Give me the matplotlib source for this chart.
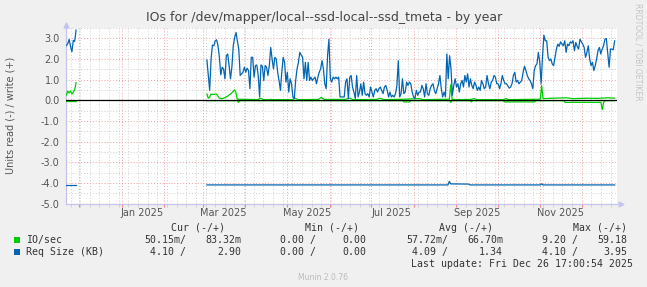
import numpy as np
import pandas as pd
import matplotlib
matplotlib.use('Agg')
import matplotlib.pyplot as plt
import matplotlib.dates as mdates
from matplotlib.patches import Rectangle
from matplotlib.ticker import MultipleLocator, FuncFormatter

W, H = 647, 287

# --- data -----------------------------------------------------------------
# first block of samples (late Nov 2024)
seg1_dates = ['2024-11-22', '2024-11-23', '2024-11-24', '2024-11-25',
              '2024-11-26', '2024-11-27', '2024-11-28', '2024-11-29']
size_write_1 = [2.65, 2.75, 2.95, 2.60, 2.35, 2.90, 2.85, 3.40]
size_read_1 = [4.10, 4.10, 4.10, 4.10, 4.10, 4.10, 4.10, 4.10]
io_write_1 = [0.25, 0.45, 0.35, 0.45, 0.30, 0.40, 0.50, 0.85]
io_read_1 = [0.02, 0.02, 0.02, 0.02, 0.02, 0.02, 0.02, 0.02]

# second block, roughly daily from 2025-03-04 to 2025-12-25
seg2_start, seg2_end = '2025-03-04', '2025-12-25'
size_write_2 = [
    1.95, 1.20, 0.48, 2.00, 2.67, 2.64, 2.88, 2.93, 2.64, 2.08,
    1.23, 1.60, 1.52, 1.04, 2.16, 2.24, 1.68, 1.04, 1.60, 2.64,
    3.04, 3.28, 2.88, 2.45, 1.20, 1.28, 1.36, 1.60, 1.36, 1.55,
    1.44, 0.56, 2.08, 2.08, 1.12, 1.68, 1.71, 1.20, 0.16, 1.71,
    1.65, 0.96, 1.68, 1.60, 1.20, 1.68, 2.56, 2.00, 1.52, 2.08,
    2.00, 1.36, 0.96, 0.48, 1.36, 2.08, 1.84, 0.88, 1.36, 0.40,
    1.04, 0.80, 0.16, 0.08, 0.96, 1.52, 1.84, 2.32, 2.19, 2.08,
    1.04, 1.84, 0.96, 1.84, 0.96, 1.12, 0.96, 1.04, 1.12, 0.80,
    1.12, 1.36, 1.52, 1.92, 1.52, 0.80, 0.56, 2.16, 2.96, 1.04,
    0.88, 1.12, 1.04, 1.12, 1.04, 1.12, 0.16, 0.16, 0.16, 0.16,
    0.88, 1.04, 0.08, 1.12, 1.20, 0.64, 0.40, 0.08, 1.20, 0.16,
    0.40, 0.80, 0.24, 0.88, 0.32, 0.24, 0.32, 0.16, 0.64, 0.40,
    0.16, 0.48, 0.56, 0.40, 0.56, 0.64, 0.48, 0.32, 0.64, 0.72,
    0.48, 0.16, 0.40, 0.16, 0.24, 0.16, 0.32, 0.72, 1.92, 0.16,
    0.32, 1.04, 0.32, 0.40, 0.88, 0.72, 0.88, 0.80, 0.40, 0.16,
    0.08, 0.48, 0.24, 0.40, 0.40, 0.72, 0.56, 0.16, 0.80, 0.32,
    0.24, 0.56, 0.72, 0.80, 0.48, 0.32, 0.56, 0.80, 1.20, 0.56,
    0.16, 0.40, 0.16, 2.24, 1.04, 2.16, 1.52, 0.24, 0.72, 1.04,
    0.64, 0.80, 0.40, 0.80, 0.96, 0.64, 1.20, 0.88, 1.28, 0.64,
    1.04, 0.72, 0.56, 0.88, 0.72, 0.48, 0.64, 0.48, 0.96, 0.80,
    0.56, 0.64, 1.20, 0.80, 0.56, 0.88, 0.96, 1.20, 1.12, 0.80,
    0.80, 0.56, 0.80, 1.20, 0.96, 0.80, 0.80, 0.69, 0.59, 0.64,
    0.80, 1.20, 1.36, 0.88, 0.96, 0.80, 0.88, 0.96, 1.36, 1.65,
    1.44, 1.20, 1.04, 0.96, 0.80, 0.56, 1.44, 1.68, 1.76, 2.32,
    1.84, 0.80, 2.16, 3.15, 2.88, 2.88, 2.08, 1.92, 2.00, 1.76,
    1.68, 2.08, 2.48, 2.72, 2.61, 2.83, 2.72, 2.64, 2.88, 2.32,
    2.72, 2.64, 2.83, 2.77, 2.88, 2.40, 2.80, 2.61, 2.48, 2.96,
    2.83, 2.72, 2.56, 2.08, 2.32, 2.64, 2.00, 1.68, 1.84, 1.44,
    1.68, 2.00, 2.40, 2.56, 2.24, 2.48, 2.64, 2.96, 2.99, 2.32,
    1.60, 2.48, 2.48, 2.45, 2.88,
]

size_read_2_dates = ['2025-03-04', '2025-08-26', '2025-08-27', '2025-08-28',
                     '2025-09-10', '2025-09-11', '2025-11-01', '2025-11-02',
                     '2025-11-03', '2025-12-25']
size_read_2 = [4.10, 4.10, 3.93, 4.05, 4.06, 4.10, 4.10, 4.05, 4.10, 4.10]

io_write_2_dates = [
    '2025-03-04', '2025-03-05', '2025-03-06', '2025-03-07', '2025-03-09',
    '2025-03-11', '2025-03-13', '2025-03-15', '2025-03-17', '2025-03-19',
    '2025-03-21', '2025-03-23', '2025-03-24', '2025-03-25', '2025-03-26',
    '2025-04-10', '2025-04-12', '2025-04-14', '2025-05-05', '2025-05-07',
    '2025-05-09', '2025-05-24', '2025-05-26', '2025-05-28', '2025-06-12',
    '2025-06-16', '2025-06-18', '2025-07-05', '2025-07-08', '2025-07-10',
    '2025-07-25', '2025-08-05', '2025-08-08', '2025-08-27', '2025-08-28',
    '2025-08-29', '2025-09-12', '2025-09-14', '2025-09-16', '2025-10-05',
    '2025-10-07', '2025-10-09', '2025-11-01', '2025-11-02', '2025-11-03',
    '2025-11-10', '2025-11-20', '2025-11-25', '2025-12-05', '2025-12-12',
    '2025-12-20', '2025-12-25',
]
io_write_2 = [
    0.30, 0.10, 0.15, 0.30, 0.28,
    0.30, 0.10, 0.08, 0.12, 0.20,
    0.30, 0.42, 0.50, 0.40, 0.05,
    0.03, 0.10, 0.03, 0.03, 0.10,
    0.03, 0.04, 0.14, 0.04, 0.04,
    0.10, 0.03, 0.04, 0.10, 0.03,
    0.05, 0.08, 0.03, 0.05, 0.75,
    0.03, 0.04, 0.08, 0.03, 0.03,
    0.08, 0.03, 0.05, 0.72, 0.08,
    0.10, 0.12, 0.08, 0.10, 0.09,
    0.12, 0.10,
]

io_read_2_dates = [
    '2025-03-04', '2025-03-26', '2025-03-27', '2025-03-28', '2025-07-24',
    '2025-07-25', '2025-07-29', '2025-07-30', '2025-08-27', '2025-08-28',
    '2025-08-29', '2025-09-11', '2025-09-12', '2025-09-13', '2025-10-05',
    '2025-10-06', '2025-10-28', '2025-10-29', '2025-11-18', '2025-11-19',
    '2025-12-15', '2025-12-16', '2025-12-17', '2025-12-18', '2025-12-25',
]
io_read_2 = [
    0.02, 0.02, 0.10, 0.02, 0.02,
    0.08, 0.08, 0.02, 0.02, 0.10,
    0.02, 0.02, 0.08, 0.02, 0.02,
    0.08, 0.08, 0.02, 0.02, 0.10,
    0.10, 0.45, 0.10, 0.02, 0.02,
]

month_labels = ['Jan 2025', 'Mar 2025', 'May 2025', 'Jul 2025', 'Sep 2025', 'Nov 2025']
month_label_dates = ['2025-01-16', '2025-03-16', '2025-05-16', '2025-07-16',
                     '2025-09-16', '2025-11-16']

legend_names = ['IO/sec', 'Req Size (KB)']
legend_colors = ['#00CC00', '#0066B3']
legend_headers = ['Cur (-/+)', 'Min (-/+)', 'Avg (-/+)', 'Max (-/+)']
legend_values = [
    ['50.15m/', '83.32m', '0.00 /', '0.00', '57.72m/', '66.70m', '9.20 /', '59.18'],
    ['4.10 /', '2.90', '0.00 /', '0.00', '4.09 /', '1.34', '4.10 /', '3.95'],
]
last_update = 'Last update: Fri Dec 26 17:00:54 2025'

x_start = pd.Timestamp('2024-11-21 17:00')
x_end = pd.Timestamp('2025-12-26 17:00')


def fx(x):
    return x / W


def fy(y):
    return 1 - y / H


def neg(v):
    return -np.asarray(v)


def main():
    plt.rcParams['axes.unicode_minus'] = False
    plt.rcParams['font.family'] = 'DejaVu Sans'

    fig = plt.figure(figsize=(W / 100, H / 100), dpi=100, facecolor='#F0F0F0')
    ax = fig.add_axes([fx(66), fy(203.5), fx(551), 175.5 / H])
    ax.set_facecolor('white')

    green, blue = legend_colors
    lw = 0.9

    d1 = pd.to_datetime(seg1_dates)
    d2 = pd.date_range(seg2_start, seg2_end, periods=len(size_write_2))

    # IO/sec: read drawn negative, write positive
    ax.plot(d1, neg(io_read_1), color=green, lw=lw, zorder=3)
    ax.plot(d1, io_write_1, color=green, lw=lw, zorder=3)
    ax.plot(pd.to_datetime(io_read_2_dates), neg(io_read_2), color=green, lw=lw, zorder=3)
    ax.plot(pd.to_datetime(io_write_2_dates), io_write_2, color=green, lw=lw, zorder=3)

    ax.axhline(0, color='black', lw=0.9, zorder=4)

    # Req Size
    ax.plot(d1, neg(size_read_1), color=blue, lw=lw, zorder=5)
    ax.plot(d1, size_write_1, color=blue, lw=lw, zorder=5)
    ax.plot(pd.to_datetime(size_read_2_dates), neg(size_read_2), color=blue, lw=lw, zorder=5)
    ax.plot(d2, size_write_2, color=blue, lw=lw, zorder=5)

    ax.set_xlim(x_start, x_end)
    ax.set_ylim(-5.0, 3.5)

    # grid
    ax.xaxis.set_major_locator(mdates.MonthLocator())
    ax.xaxis.set_minor_locator(mdates.WeekdayLocator(byweekday=mdates.MO))
    ax.yaxis.set_major_locator(MultipleLocator(1.0))
    ax.yaxis.set_minor_locator(MultipleLocator(0.5))
    ax.grid(which='major', color='#F2A0A0', linestyle=(0, (1, 2)), lw=0.7)
    ax.grid(which='minor', color='#CFCFCF', linestyle=(0, (1, 2)), lw=0.7)
    ax.set_axisbelow(True)

    ax.tick_params(axis='x', which='major', length=2.5, color='#F08080', labelbottom=False)
    ax.tick_params(axis='x', which='minor', length=2, color='#CCCCCC')
    ax.tick_params(axis='y', which='both', length=0, pad=4.5, labelsize=7, labelcolor='#555555')
    ax.yaxis.set_major_formatter(FuncFormatter(lambda v, p: '%.1f' % v))

    for s in ['top', 'right']:
        ax.spines[s].set_visible(False)
    for s in ['left', 'bottom']:
        ax.spines[s].set_color('#C4C4EE')
        ax.spines[s].set_linewidth(0.9)
    # axis arrows
    ax.plot([1.008], [0], marker='>', ms=3.5, color='#C4C4EE', transform=ax.transAxes, clip_on=False)
    ax.plot([0], [1.015], marker='^', ms=3.5, color='#C4C4EE', transform=ax.transAxes, clip_on=False)

    for lab, dt in zip(month_labels, month_label_dates):
        ax.text(pd.Timestamp(dt), -0.052, lab, transform=ax.get_xaxis_transform(),
                ha='center', va='center', fontsize=7, color='#555555')

    # texts
    fig.text(fx(324), fy(18), 'IOs for /dev/mapper/local--ssd-local--ssd_tmeta - by year',
             ha='center', va='center', fontsize=9, color='#444444')
    fig.text(fx(11), fy(115), 'Units read (-) / write (+)', rotation=90,
             ha='center', va='center', fontsize=7, color='#555555')
    fig.text(fx(638), fy(52), 'RRDTOOL / TOBI OETIKER', rotation=270,
             ha='center', va='center', fontsize=5.5, color='#C4C4C4')

    # legend
    mono = dict(family='DejaVu Sans Mono', fontsize=7.1, color='#333333')
    header_ends = [225, 359, 493, 627]
    for txt, xe in zip(legend_headers, header_ends):
        fig.text(fx(xe), fy(228), txt, ha='right', va='center', **mono)

    value_ends = [186, 241, 316, 366, 448, 503, 578, 627]
    row_y = [240, 252]
    for name, col, vals, y in zip(legend_names, legend_colors, legend_values, row_y):
        fig.patches.append(Rectangle((fx(14), fy(y + 3)), 5.5 / W, 6 / H,
                                     transform=fig.transFigure, facecolor=col,
                                     edgecolor='none'))
        fig.text(fx(26), fy(y), name, ha='left', va='center', **mono)
        for v, xe in zip(vals, value_ends):
            fig.text(fx(xe), fy(y), v, ha='right', va='center', **mono)

    fig.text(fx(633), fy(264), last_update, ha='right', va='center', **mono)
    fig.text(fx(323), fy(277), 'Munin 2.0.76', ha='center', va='center',
             fontsize=5.5, color='#BBBBBB')

    fig.savefig('out.png', dpi=100, facecolor=fig.get_facecolor())


if __name__ == '__main__':
    main()
